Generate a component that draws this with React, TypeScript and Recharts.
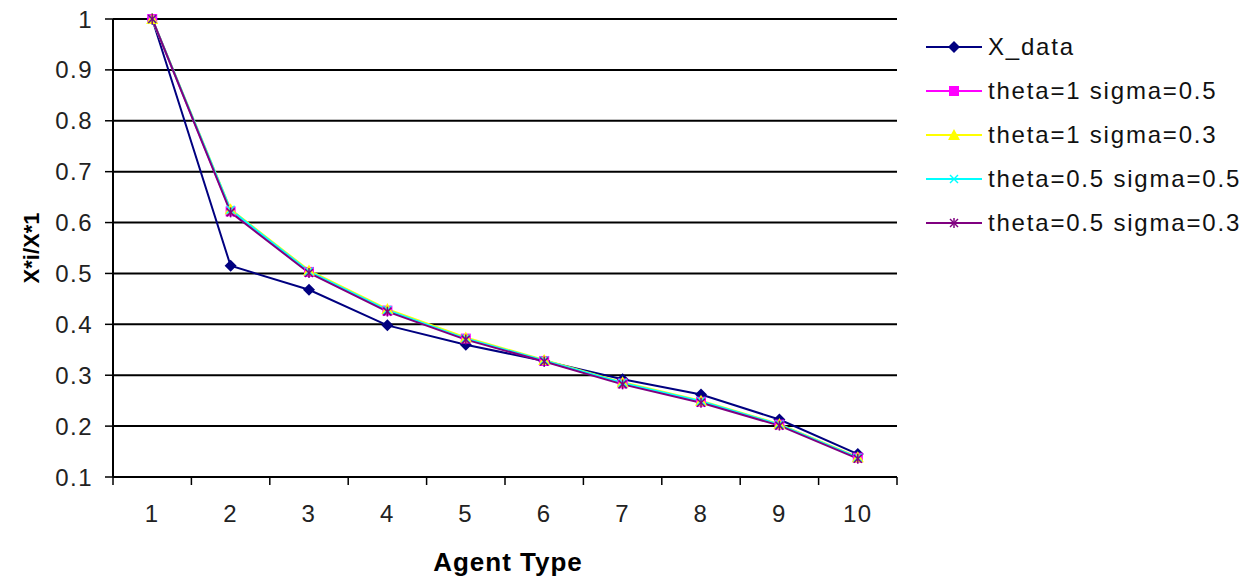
import React from "react";
import {
  CartesianGrid,
  Label,
  Line,
  LineChart,
  XAxis,
  YAxis,
} from "recharts";

const categories = [1, 2, 3, 4, 5, 6, 7, 8, 9, 10];
const xData = [1, 0.515, 0.468, 0.398, 0.36, 0.328, 0.292, 0.262, 0.213, 0.145];
const theta1Sigma05 = [1, 0.622, 0.503, 0.427, 0.372, 0.328, 0.284, 0.248, 0.203, 0.138];
const theta1Sigma03 = [1, 0.626, 0.506, 0.43, 0.374, 0.33, 0.286, 0.25, 0.204, 0.139];
const theta05Sigma05 = [1, 0.625, 0.504, 0.428, 0.372, 0.329, 0.285, 0.249, 0.203, 0.138];
const theta05Sigma03 = [1, 0.62, 0.501, 0.425, 0.37, 0.327, 0.282, 0.246, 0.201, 0.136];
const yTicks = [0.1, 0.2, 0.3, 0.4, 0.5, 0.6, 0.7, 0.8, 0.9, 1];
const xBoundaries = [0.5, 1.5, 2.5, 3.5, 4.5, 5.5, 6.5, 7.5, 8.5, 9.5, 10.5];

type MarkerKind = "diamond" | "square" | "triangle" | "cross" | "star";

const series: { key: string; name: string; color: string; marker: MarkerKind; values: number[] }[] = [
  { key: "xData", name: "X_data", color: "#000080", marker: "diamond", values: xData },
  { key: "t1s05", name: "theta=1 sigma=0.5", color: "#FF00FF", marker: "square", values: theta1Sigma05 },
  { key: "t1s03", name: "theta=1 sigma=0.3", color: "#FFFF00", marker: "triangle", values: theta1Sigma03 },
  { key: "t05s05", name: "theta=0.5 sigma=0.5", color: "#00FFFF", marker: "cross", values: theta05Sigma05 },
  { key: "t05s03", name: "theta=0.5 sigma=0.3", color: "#800080", marker: "star", values: theta05Sigma03 },
];

const data = categories.map((c, i) => {
  const row: Record<string, number> = { x: c };
  series.forEach((s) => {
    row[s.key] = s.values[i];
  });
  return row;
});

const W = 1259;
const H = 584;
const PLOT_LEFT = 113;
const PLOT_RIGHT = 897;
const PLOT_TOP = 19;
const PLOT_BOTTOM = 477;
const HALF_BAND = (PLOT_RIGHT - PLOT_LEFT) / 20;
const FONT = "'Liberation Sans', Arial, sans-serif";

function Marker({ cx, cy, kind, color }: { cx: number; cy: number; kind: MarkerKind; color: string }) {
  if (cx == null || cy == null) return null;
  switch (kind) {
    case "diamond":
      return <path d={`M${cx},${cy - 6}L${cx + 6},${cy}L${cx},${cy + 6}L${cx - 6},${cy}Z`} fill={color} />;
    case "square":
      return <rect x={cx - 5} y={cy - 5} width={10} height={10} fill={color} />;
    case "triangle":
      return <path d={`M${cx},${cy - 6}L${cx + 6},${cy + 5}L${cx - 6},${cy + 5}Z`} fill={color} />;
    case "cross":
      return (
        <g stroke={color} strokeWidth={1.5}>
          <line x1={cx - 4} y1={cy - 4} x2={cx + 4} y2={cy + 4} />
          <line x1={cx - 4} y1={cy + 4} x2={cx + 4} y2={cy - 4} />
        </g>
      );
    case "star":
      return (
        <g stroke={color} strokeWidth={1.5}>
          <line x1={cx - 4} y1={cy - 4} x2={cx + 4} y2={cy + 4} />
          <line x1={cx - 4} y1={cy + 4} x2={cx + 4} y2={cy - 4} />
          <line x1={cx} y1={cy - 5} x2={cx} y2={cy + 5} />
        </g>
      );
  }
  return null;
}

// labels sit in the middle of each category band, tick marks on the band edges
function CategoryTick(props: any) {
  const { x, y, payload } = props;
  const v = payload?.value;
  if (v > 10) return null;
  return (
    <text
      x={x + HALF_BAND}
      y={y}
      dy={35}
      textAnchor="middle"
      fill="#222"
      fontSize={24}
      fontFamily={FONT}
      letterSpacing={1.5}
    >
      {v + 0.5}
    </text>
  );
}

function LegendBox() {
  return (
    <div
      style={{
        position: "absolute",
        left: 926,
        top: 25,
        fontFamily: FONT,
        fontSize: 24,
        color: "#111",
        letterSpacing: 1.8,
      }}
    >
      {series.map((s) => (
        <div key={s.key} style={{ display: "flex", alignItems: "center", height: 44 }}>
          <svg width={58} height={20} style={{ marginRight: 4 }}>
            <line x1={0} y1={10} x2={56} y2={10} stroke={s.color} strokeWidth={2} />
            <Marker cx={28} cy={10} kind={s.marker} color={s.color} />
          </svg>
          <span style={{ whiteSpace: "nowrap" }}>{s.name}</span>
        </div>
      ))}
    </div>
  );
}

export default function App() {
  return (
    <div style={{ position: "absolute", left: 0, top: 0, width: W, height: H, background: "#fff" }}>
      <LineChart
        width={W}
        height={H}
        data={data}
        margin={{ top: PLOT_TOP, right: W - PLOT_RIGHT, left: 0, bottom: 0 }}
      >
        <CartesianGrid vertical={false} stroke="#000" strokeWidth={2} />
        <XAxis
          dataKey="x"
          type="number"
          domain={[0.5, 10.5]}
          ticks={xBoundaries}
          interval={0}
          height={H - PLOT_BOTTOM}
          axisLine={{ stroke: "#000", strokeWidth: 2 }}
          tickLine={{ stroke: "#000", strokeWidth: 1.5 }}
          tickSize={8}
          tick={<CategoryTick />}
        >
          <Label
            content={() => (
              <text
                x={(PLOT_LEFT + PLOT_RIGHT) / 2 + 3}
                y={571}
                textAnchor="middle"
                fontFamily={FONT}
                fontWeight="bold"
                fontSize={26}
                letterSpacing={1}
                fill="#000"
              >
                Agent Type
              </text>
            )}
          />
        </XAxis>
        <YAxis
          type="number"
          domain={[0.1, 1]}
          ticks={yTicks}
          interval={0}
          width={PLOT_LEFT}
          axisLine={{ stroke: "#000", strokeWidth: 2 }}
          tickLine={{ stroke: "#000", strokeWidth: 1.5 }}
          tickSize={8}
          tickMargin={12}
          tick={{ fill: "#222", fontSize: 24, fontFamily: FONT, letterSpacing: 1.5 }}
        >
          <Label
            content={() => (
              <text
                x={31}
                y={(PLOT_TOP + PLOT_BOTTOM) / 2}
                transform={`rotate(-90 31 ${(PLOT_TOP + PLOT_BOTTOM) / 2})`}
                textAnchor="middle"
                dominantBaseline="central"
                fontFamily={FONT}
                fontWeight="bold"
                fontSize={22}
                fill="#000"
              >
                X*i/X*1
              </text>
            )}
          />
        </YAxis>
        {series.map((s) => (
          <Line
            key={s.key}
            dataKey={s.key}
            name={s.name}
            stroke={s.color}
            strokeWidth={2}
            isAnimationActive={false}
            dot={(p: any) => <Marker key={`${s.key}-${p.index}`} cx={p.cx} cy={p.cy} kind={s.marker} color={s.color} />}
            activeDot={false}
          />
        ))}
      </LineChart>
      <LegendBox />
    </div>
  );
}
